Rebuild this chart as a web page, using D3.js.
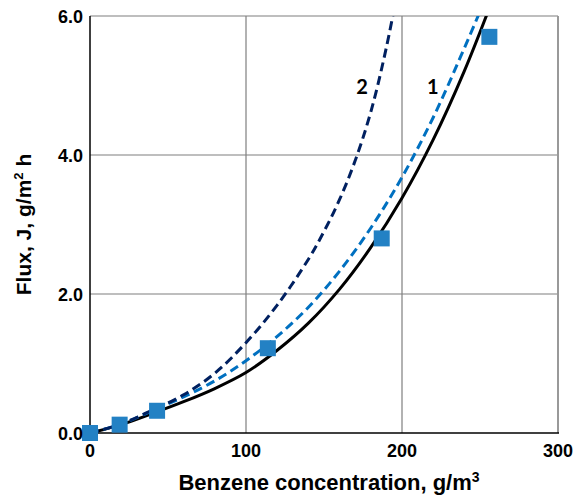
<!DOCTYPE html>
<html><head><meta charset="utf-8">
<script src="https://cdn.jsdelivr.net/npm/d3@7"></script>
<style>
body{margin:0;background:#fff;}
svg{display:block;}
text{font-family:"Liberation Sans",Arial,sans-serif;font-weight:bold;fill:#000;}
</style></head>
<body><svg id="c" width="577" height="497"></svg>
<script>
// Data
const xTicks = [0, 100, 200, 300];
const yTicks = [0, 2, 4, 6];
const yTickLabels = ["0.0", "2.0", "4.0", "6.0"];
const expX = [0, 19, 43, 114, 187, 256];
const expY = [0, 0.12, 0.32, 1.22, 2.8, 5.7];
const curve1X = [0, 20, 40, 60, 80, 100, 120, 140, 160, 180, 200, 220, 240, 260];
const curve1Y = [0, 0.12, 0.28, 0.45, 0.64, 0.87, 1.19, 1.58, 2.07, 2.67, 3.38, 4.22, 5.21, 6.35];
const curveBlueX = [0, 20, 40, 60, 80, 100, 120, 140, 160, 180, 200, 220, 240, 260];
const curveBlueY = [0, 0.13, 0.32, 0.52, 0.75, 1.04, 1.39, 1.81, 2.33, 2.95, 3.68, 4.54, 5.54, 6.6];
const curve2X = [0, 20, 40, 60, 80, 100, 120, 140, 150, 160, 170, 180, 190, 200];
const curve2Y = [0, 0.13, 0.33, 0.55, 0.86, 1.3, 1.84, 2.5, 2.9, 3.36, 3.92, 4.62, 5.55, 6.7];
const labels = [{t:"2", x:174.4, y:4.98}, {t:"1", x:219.7, y:4.98}];

const svg = d3.select("#c");
const x = d3.scaleLinear().domain([0,300]).range([90,558]);
const y = d3.scaleLinear().domain([0,6]).range([433,16]);

// grid
svg.append("g").selectAll("line").data(xTicks.slice(1)).join("line")
  .attr("x1", d=>x(d)).attr("x2", d=>x(d)).attr("y1", y(0)).attr("y2", y(6))
  .attr("stroke", "#7f7f7f").attr("stroke-width", 1.2);
svg.append("g").selectAll("line").data(yTicks.slice(1)).join("line")
  .attr("x1", x(0)).attr("x2", x(300)).attr("y1", d=>y(d)).attr("y2", d=>y(d))
  .attr("stroke", "#7f7f7f").attr("stroke-width", 1.2);
svg.append("line").attr("x1", x(300)).attr("x2", x(300)).attr("y1", y(0)).attr("y2", y(6))
  .attr("stroke", "#999").attr("stroke-width", 2);
svg.append("line").attr("x1", x(0)).attr("x2", x(0)).attr("y1", y(0)+1).attr("y2", y(6))
  .attr("stroke", "#000").attr("stroke-width", 1.5);
svg.append("line").attr("x1", x(0)).attr("x2", x(300)+1).attr("y1", y(0)).attr("y2", y(0))
  .attr("stroke", "#000").attr("stroke-width", 1.5);

svg.append("defs").append("clipPath").attr("id","clip").append("rect")
  .attr("x", x(0)).attr("y", y(6)).attr("width", x(300)-x(0)).attr("height", y(0)-y(6));

const line = d3.line().x(d=>x(d[0])).y(d=>y(d[1])).curve(d3.curveCatmullRom.alpha(0.5));
const gC = svg.append("g").attr("clip-path","url(#clip)");
gC.append("path").attr("d", line(d3.zip(curve1X, curve1Y)))
  .attr("fill","none").attr("stroke","#000").attr("stroke-width",3);
gC.append("path").attr("d", line(d3.zip(curveBlueX, curveBlueY)))
  .attr("fill","none").attr("stroke","#0070C0").attr("stroke-width",3).attr("stroke-dasharray","9,5");
gC.append("path").attr("d", line(d3.zip(curve2X, curve2Y)))
  .attr("fill","none").attr("stroke","#002060").attr("stroke-width",3).attr("stroke-dasharray","9,5");

const s = 16;
svg.append("g").selectAll("rect").data(d3.zip(expX, expY)).join("rect")
  .attr("x", d=>x(d[0])-s/2).attr("y", d=>y(d[1])-s/2).attr("width", s).attr("height", s)
  .attr("fill", "#2381C4");

svg.append("g").selectAll("text").data(xTicks).join("text")
  .attr("x", d=>x(d)).attr("y", 457).attr("text-anchor","middle").attr("font-size", 18).text(d=>d);
svg.append("g").selectAll("text").data(yTicks).join("text")
  .attr("x", 83).attr("y", d=>y(d)+6.5).attr("text-anchor","end").attr("font-size", 18)
  .text((d,i)=>yTickLabels[i]);

svg.append("g").selectAll("text").data(labels).join("text")
  .attr("x", d=>x(d.x)).attr("y", d=>y(d.y)+7).attr("text-anchor","middle")
  .style("font-family","Lato, 'Open Sans', sans-serif").attr("font-size", 20).text(d=>d.t);

const xt = svg.append("text").attr("x", 329).attr("y", 490).attr("text-anchor","middle").attr("font-size", 22);
xt.append("tspan").text("Benzene concentration, g/m");
xt.append("tspan").attr("font-size", 14).attr("dy", -8).text("3");

const yt = svg.append("text").attr("transform","translate(31,224.5) rotate(-90)").attr("text-anchor","middle").attr("font-size", 21);
yt.append("tspan").text("Flux, J, g/m");
yt.append("tspan").attr("font-size", 13).attr("dy", -8).text("2");
yt.append("tspan").attr("dy", 8).text(" h");
</script></body></html>
